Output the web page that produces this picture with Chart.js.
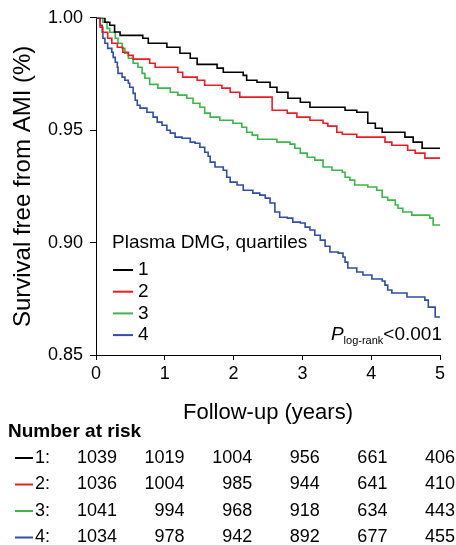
<!DOCTYPE html>
<html>
<head>
<meta charset="utf-8">
<script src="https://cdn.jsdelivr.net/npm/chart.js@4.4.1/dist/chart.umd.min.js"></script>
<style>
html, body { margin: 0; padding: 0; background: #fff; }
#wrap { width: 456px; height: 545px; }
</style>
</head>
<body>
<div id="wrap"><canvas id="kmChart" width="456" height="545"></canvas></div>
<script>
// Kaplan-Meier curves by plasma DMG quartile (time in years, survival fraction)
const groups = ['1', '2', '3', '4'];
const colors = ['#000000', '#ec1c24', '#3cb54a', '#2e4ea8'];

const q1Time = [0, 0.13, 0.20, 0.27, 0.35, 0.68, 0.76, 1.03, 1.22, 1.37, 1.47, 1.76, 1.85, 2.14, 2.19, 2.34, 2.53, 2.63, 2.79, 2.97, 3.11, 3.62, 3.79, 3.95, 4.06, 4.16, 4.49, 4.61, 4.74, 5.0];
const q1Surv = [1.000, 0.998, 0.9967, 0.9937, 0.9922, 0.9909, 0.9887, 0.9869, 0.9842, 0.9820, 0.9793, 0.9776, 0.9758, 0.9744, 0.9722, 0.9713, 0.9691, 0.9669, 0.9642, 0.9624, 0.9602, 0.9589, 0.9580, 0.9531, 0.9509, 0.9491, 0.9469, 0.9447, 0.9420, 0.9420];

const q2Time = [0, 0.06, 0.10, 0.17, 0.23, 0.31, 0.39, 0.47, 0.54, 0.78, 0.86, 1.19, 1.26, 1.47, 1.58, 1.83, 1.95, 2.09, 2.56, 2.78, 2.92, 3.11, 3.30, 3.37, 3.50, 3.58, 3.79, 4.20, 4.30, 4.53, 4.64, 4.78, 5.0];
const q2Surv = [1.000, 0.9958, 0.9936, 0.9909, 0.9887, 0.9869, 0.9847, 0.9833, 0.9816, 0.9798, 0.9780, 0.9758, 0.9736, 0.9722, 0.9700, 0.9687, 0.9669, 0.9647, 0.9589, 0.9576, 0.9558, 0.9544, 0.9531, 0.9518, 0.9491, 0.9482, 0.9469, 0.9447, 0.9433, 0.9411, 0.9398, 0.9376, 0.9376];

const q3Time = [0, 0.10, 0.16, 0.20, 0.28, 0.32, 0.38, 0.42, 0.47, 0.54, 0.61, 0.67, 0.71, 0.78, 0.90, 1.08, 1.19, 1.32, 1.41, 1.51, 1.58, 1.66, 1.80, 1.99, 2.12, 2.19, 2.27, 2.35, 2.63, 2.82, 2.89, 2.97, 3.07, 3.18, 3.30, 3.43, 3.58, 3.62, 3.69, 3.76, 3.95, 4.08, 4.16, 4.24, 4.35, 4.39, 4.46, 4.59, 4.85, 4.90, 5.0];
const q3Surv = [1.000, 0.9980, 0.9953, 0.9936, 0.9909, 0.9887, 0.9864, 0.9842, 0.9820, 0.9798, 0.9780, 0.9753, 0.9731, 0.9704, 0.9687, 0.9669, 0.9656, 0.9642, 0.9620, 0.9602, 0.9576, 0.9558, 0.9544, 0.9531, 0.9513, 0.9491, 0.9478, 0.9460, 0.9447, 0.9438, 0.9420, 0.9398, 0.9380, 0.9367, 0.9336, 0.9322, 0.9313, 0.9291, 0.9278, 0.9256, 0.9247, 0.9233, 0.9202, 0.9189, 0.9167, 0.9153, 0.9136, 0.9122, 0.9109, 0.9078, 0.9078];

const q4Time = [0, 0.06, 0.09, 0.10, 0.13, 0.17, 0.23, 0.25, 0.28, 0.31, 0.32, 0.38, 0.42, 0.47, 0.49, 0.54, 0.57, 0.60, 0.64, 0.74, 0.83, 0.89, 0.96, 1.03, 1.08, 1.15, 1.25, 1.37, 1.44, 1.51, 1.58, 1.63, 1.66, 1.73, 1.85, 1.90, 1.95, 2.05, 2.14, 2.28, 2.38, 2.46, 2.53, 2.60, 2.67, 2.78, 2.86, 2.97, 3.04, 3.11, 3.18, 3.26, 3.33, 3.40, 3.52, 3.59, 3.62, 3.66, 3.79, 3.88, 4.01, 4.16, 4.20, 4.24, 4.30, 4.52, 4.78, 4.83, 4.93, 5.0];
const q4Surv = [1.000, 0.9967, 0.9936, 0.9909, 0.9887, 0.9864, 0.9847, 0.9824, 0.9802, 0.9780, 0.9753, 0.9736, 0.9722, 0.9709, 0.9691, 0.9664, 0.9633, 0.9611, 0.9598, 0.9580, 0.9558, 0.9536, 0.9522, 0.9500, 0.9487, 0.9469, 0.9464, 0.9447, 0.9442, 0.9424, 0.9402, 0.9384, 0.9358, 0.9336, 0.9322, 0.9291, 0.9269, 0.9256, 0.9233, 0.9220, 0.9211, 0.9198, 0.9176, 0.9136, 0.9113, 0.9109, 0.9091, 0.9087, 0.9069, 0.9056, 0.9033, 0.9011, 0.8984, 0.8958, 0.8953, 0.8936, 0.8913, 0.8887, 0.8869, 0.8856, 0.8838, 0.8829, 0.8811, 0.8789, 0.8776, 0.8758, 0.8744, 0.8713, 0.8669, 0.8669];

// number at risk at years 0..5
const risk1 = [1039, 1019, 1004, 956, 661, 406];
const risk2 = [1036, 1004, 985, 944, 641, 410];
const risk3 = [1041, 994, 968, 918, 634, 443];
const risk4 = [1034, 978, 942, 892, 677, 455];

const xTicks = [0, 1, 2, 3, 4, 5];
const yTicks = [0.85, 0.90, 0.95, 1.00];

const FONT = "'Liberation Sans', Arial, Helvetica, sans-serif";

const curves = [[q1Time, q1Surv], [q2Time, q2Surv], [q3Time, q3Surv], [q4Time, q4Surv]];
const riskRows = [risk1, risk2, risk3, risk4];

function toPoints(times, surv) {
    return times.map((t, i) => ({ x: t, y: surv[i] }));
}

const datasets = curves.map((c, i) => ({
    label: groups[i],
    data: toPoints(c[0], c[1]),
    borderColor: colors[i],
    borderWidth: 1.6,
    pointRadius: 0,
    stepped: 'before',
    fill: false
}));

// legend, p-value and risk table drawn after the chart
const extrasPlugin = {
    id: 'kmExtras',
    afterDraw(chart) {
        const ctx = chart.ctx;
        const area = chart.chartArea;
        const xs = chart.scales.x;
        ctx.save();
        ctx.fillStyle = '#000';

        // legend inside plot
        const lx = area.left + 16;
        ctx.font = '19px ' + FONT;
        ctx.textAlign = 'left';
        ctx.textBaseline = 'middle';
        ctx.fillText('Plasma DMG, quartiles', lx, 243);
        chart.data.datasets.forEach((ds, i) => {
            const y = 270 + i * 21.7;
            ctx.strokeStyle = ds.borderColor;
            ctx.lineWidth = 2;
            ctx.beginPath();
            ctx.moveTo(lx + 1, y);
            ctx.lineTo(lx + 21, y);
            ctx.stroke();
            ctx.fillStyle = '#000';
            ctx.fillText(ds.label, lx + 26, y);
        });

        // P log-rank
        ctx.textBaseline = 'alphabetic';
        const right = area.right + 2;
        const base = 340;
        ctx.font = '19px ' + FONT;
        const wVal = ctx.measureText('<0.001').width;
        ctx.font = '11px ' + FONT;
        const wSub = ctx.measureText('log-rank').width;
        ctx.font = 'italic 19px ' + FONT;
        const wP = ctx.measureText('P').width;
        let px = right - wVal - wSub - wP;
        ctx.fillText('P', px, base);
        px += wP;
        ctx.font = '11px ' + FONT;
        ctx.fillText('log-rank', px, base + 4);
        px += wSub;
        ctx.font = '19px ' + FONT;
        ctx.fillText('<0.001', px, base);

        // number at risk
        ctx.font = 'bold 19px ' + FONT;
        ctx.textBaseline = 'middle';
        ctx.textAlign = 'left';
        ctx.fillText('Number at risk', 8, 432);
        ctx.font = '18px ' + FONT;
        riskRows.forEach((row, r) => {
            const y = 458 + r * 26.5;
            ctx.strokeStyle = colors[r];
            ctx.lineWidth = 2;
            ctx.beginPath();
            ctx.moveTo(15, y);
            ctx.lineTo(33, y);
            ctx.stroke();
            ctx.fillStyle = '#000';
            ctx.textAlign = 'left';
            ctx.fillText(groups[r] + ':', 35, y);
            ctx.textAlign = 'right';
            row.forEach((n, k) => {
                // columns are right-aligned a little past each tick
                ctx.fillText(String(n), xs.getPixelForValue(xTicks[k]) + 21 - k * 1.2, y);
            });
        });
        ctx.restore();
    }
};

new Chart(document.getElementById('kmChart'), {
    type: 'line',
    data: { datasets: datasets },
    options: {
        responsive: false,
        animation: false,
        layout: { padding: { left: 0, right: 16, top: 17, bottom: 115 } },
        plugins: {
            legend: { display: false },
            tooltip: { enabled: false }
        },
        scales: {
            x: {
                type: 'linear',
                min: 0,
                max: 5,
                afterBuildTicks: (scale) => { scale.ticks = xTicks.map(v => ({ value: v })); },
                afterFit: (scale) => { scale.height = 75; },
                grid: { drawOnChartArea: false, drawTicks: true, tickLength: 5, color: '#000' },
                border: { color: '#000', width: 1 },
                ticks: { color: '#000', padding: 3, font: { family: FONT, size: 18 }, callback: v => String(v) },
                title: { display: true, text: 'Follow-up (years)', color: '#000', font: { family: FONT, size: 22 }, padding: { top: 0, bottom: 4 } }
            },
            y: {
                type: 'linear',
                min: 0.85,
                max: 1.0,
                afterBuildTicks: (scale) => { scale.ticks = yTicks.map(v => ({ value: v })); },
                afterFit: (scale) => { scale.width = 96; },
                grid: { drawOnChartArea: false, drawTicks: true, tickLength: 6, color: '#000' },
                border: { color: '#000', width: 1 },
                ticks: { color: '#000', padding: 7, font: { family: FONT, size: 18 }, callback: v => Number(v).toFixed(2) },
                title: { display: true, text: 'Survival free from AMI (%)', color: '#000', font: { family: FONT, size: 24 }, padding: { top: 9, bottom: 0 } }
            }
        }
    },
    plugins: [extrasPlugin]
});
</script>
</body>
</html>
